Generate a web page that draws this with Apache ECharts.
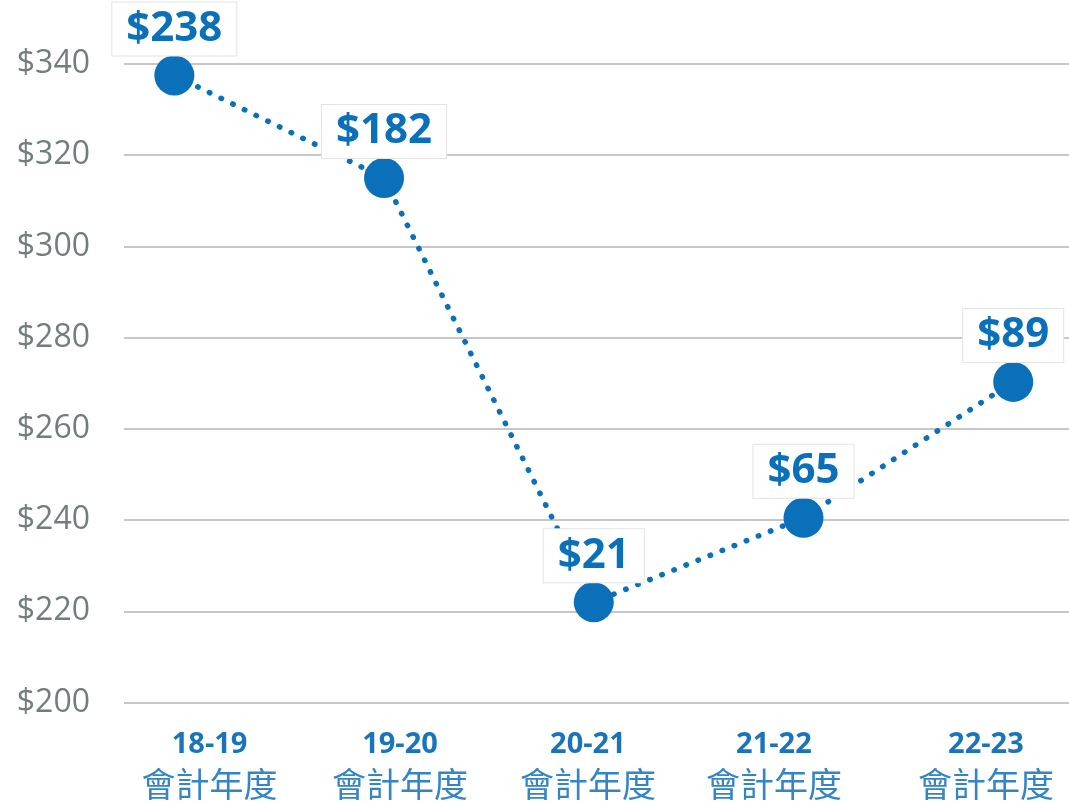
<!DOCTYPE html>
<html>
<head>
<meta charset="utf-8">
<script src="https://cdn.jsdelivr.net/npm/echarts@6/dist/echarts.min.js"></script>
<style>
  html, body { margin: 0; padding: 0; background: #fff; }
  #chart { width: 1069px; height: 802px; }
</style>
</head>
<body>
<div id="chart"></div>
<script>
const years = ['18-19', '19-20', '20-21', '21-22', '22-23']
const yearSuffix = '會計年度'
const positions = [337.5, 315, 222, 240.5, 270.3]
const pointLabels = ['$238', '$182', '$21', '$65', '$89']
const yTicks = [200, 220, 240, 260, 280, 300, 320, 340]

// where the year captions sit along the x axis (they are not centred under the points)
const captionSlots = [0.168, 1.076, 1.972, 2.859, 3.870]

const blue = '#0a70b9'

function nearestSlot(v) {
  let best = 0
  captionSlots.forEach((s, i) => { if (Math.abs(s - v) < Math.abs(captionSlots[best] - v)) best = i })
  return best
}

const chart = echarts.init(document.getElementById('chart'))
chart.setOption({
  backgroundColor: '#fff',
  animation: false,
  grid: { left: 124, right: 0, top: 64, bottom: 99.5, outerBoundsMode: 'none' },
  xAxis: {
    type: 'value',
    min: -0.24,
    max: 4.266,
    axisLine: { show: false },
    axisTick: { show: false },
    splitLine: { show: false },
    axisLabel: {
      customValues: captionSlots,
      margin: 22,
      formatter: v => '{a|' + years[nearestSlot(v)] + '}\n{b|' + yearSuffix + '}',
      rich: {
        a: { fontFamily: 'Open Sans', fontWeight: 'bold', fontSize: 29, color: '#1a74bb', lineHeight: 40 },
        b: { fontFamily: 'Noto Sans CJK TC', fontSize: 34, color: '#3385c6', lineHeight: 40 }
      }
    }
  },
  yAxis: {
    type: 'value',
    min: yTicks[0],
    max: yTicks[yTicks.length - 1],
    interval: 20,
    axisLine: { show: false },
    axisTick: { show: false },
    axisLabel: {
      margin: 34,
      fontFamily: 'Open Sans',
      fontSize: 32,
      color: '#737d7e',
      formatter: '${value}'
    },
    splitLine: { lineStyle: { color: '#b5b5b5', width: 1.5 } }
  },
  series: [{
    type: 'line',
    data: positions.map((v, i) => [i, v]),
    symbol: 'circle',
    symbolSize: 40,
    itemStyle: { color: blue },
    lineStyle: { color: blue, width: 5.5, type: [0.5, 12.5], cap: 'round' },
    label: {
      show: true,
      position: 'top',
      distance: 0,
      formatter: p => pointLabels[p.dataIndex],
      fontFamily: 'Open Sans',
      fontWeight: 'bold',
      fontSize: 42,
      color: blue,
      lineHeight: 45,
      backgroundColor: '#fff',
      borderColor: '#e4e4e4',
      borderWidth: 1,
      padding: [4, 14, 4, 14]
    }
  }]
})
</script>
</body>
</html>
